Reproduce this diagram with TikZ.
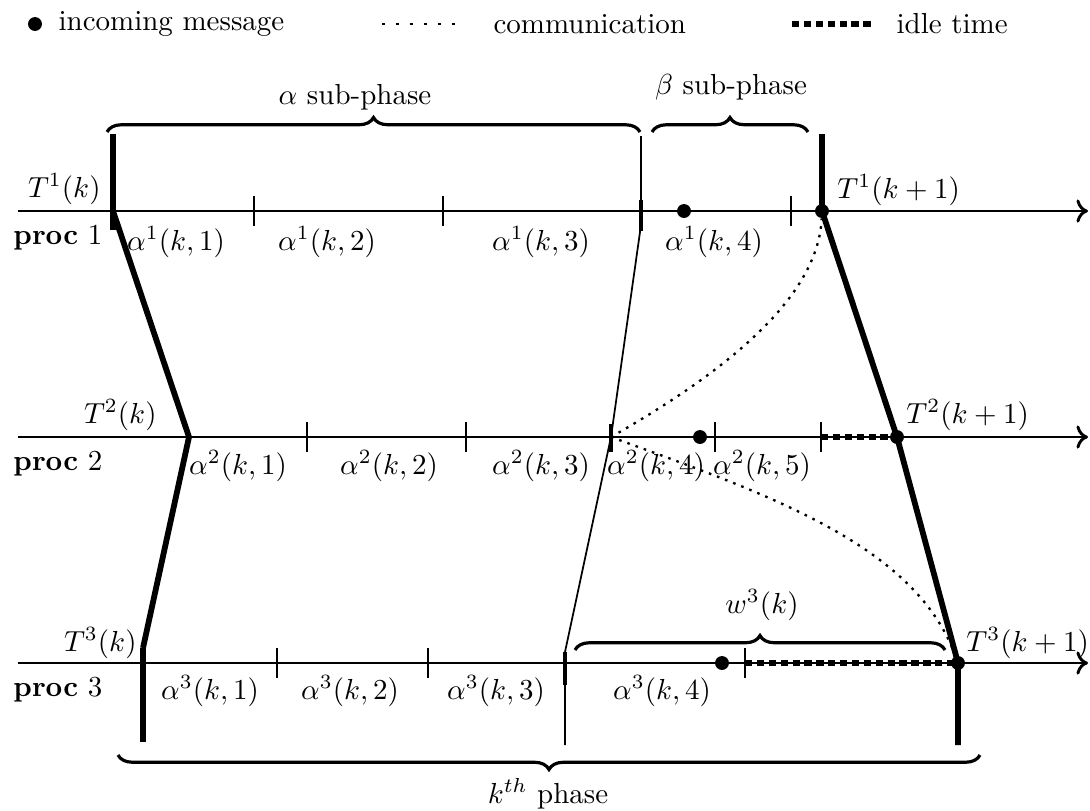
\documentclass[tikz,border=0pt]{standalone}
\usepackage{amsmath}
\usetikzlibrary{arrows.meta,decorations.pathreplacing}

\begin{document}
\begin{tikzpicture}[
  x=0.345pt, y=-0.345pt,
  axis/.style={line width=1pt, -{To[length=4pt,width=8pt]}},
  tick/.style={line width=0.6pt},
  sync/.style={line width=2pt},
  thinsync/.style={line width=0.6pt},
  idle/.style={line width=2pt, dash pattern=on 2.5pt off 1.6pt},
  comm/.style={line width=0.8pt, dash pattern=on 0.9pt off 2.1pt},
  msg/.style={circle, fill, inner sep=0pt, minimum size=4.8pt},
  brc/.style={decorate, decoration={brace, amplitude=5pt}, line width=1.1pt},
  lab/.style={inner sep=1pt},
  proclab/.style={anchor=west, inner sep=1pt}
]
\useasboundingbox (0,0) rectangle (1090,810);

% legend
\node[msg] (legmsg) at (35,24) {};
\node[anchor=west, inner sep=0pt] (legmsgtxt) at (58,24) {incoming message};
\coordinate (legcommA) at (382,24);
\coordinate (legcommB) at (462,24);
\draw[comm, line width=1pt, dash pattern=on 1.2pt off 3.6pt] (legcommA) -- (legcommB);
\node[anchor=west, inner sep=0pt] (legcommtxt) at (493,24) {communication};
\coordinate (legidleA) at (792,24);
\coordinate (legidleB) at (872,24);
\draw[idle] (legidleA) -- (legidleB);
\node[anchor=west, inner sep=0pt] (legidletxt) at (896,24) {idle time};

% time axes
\foreach \y/\n in {211/1,437/2,663/3} {
  \coordinate (ax\n s) at (18,\y);
  \coordinate (ax\n e) at (1088,\y);
  \draw[axis] (ax\n s) -- (ax\n e);
  \node[proclab] (proc\n) at (10,\y+27) {\textbf{proc} \n};
}

% phase boundaries
\coordinate (t1k) at (113,211);
\coordinate (t2k) at (189,437);
\coordinate (t3k) at (143,663);
\coordinate (a1e) at (641,225);
\coordinate (a2e) at (611,437);
\coordinate (a3e) at (565,652);
\coordinate (t1n) at (822,211);
\coordinate (t2n) at (897,437);
\coordinate (t3n) at (958,663);

\coordinate (t1top) at (113,134);
\coordinate (t1bot) at (113,230);
\coordinate (a1top) at (641,136);
\coordinate (t1ntop) at (822,134);
\coordinate (t3kbot) at (143,742);
\coordinate (t3ktop) at (143,648);
\coordinate (a3bot) at (565,745);
\coordinate (t3nbot) at (958,745);

\draw[sync] (t1top) -- (t1bot);
\draw[sync] (t1k) -- (t2k) -- (t3ktop);
\draw[sync] (t3ktop) -- (t3kbot);
\draw[thinsync] (a1top) -- (a1e) -- (a2e) -- (a3e) -- (a3bot);
\draw[line width=1.2pt] (641,200) -- (641,231);
\draw[line width=1.2pt] (611,424) -- (611,452);
\draw[line width=1.2pt] (565,652) -- (565,685);
\draw[sync] (t1ntop) -- (t1n) -- (t2n) -- (t3n) -- (t3nbot);

% ticks
\foreach \x in {254,443,791} \draw[tick] (\x,196) -- (\x,226);
\foreach \x in {307,466,715,821} \draw[tick] (\x,422) -- (\x,452);
\foreach \x in {277,428,745} \draw[tick] (\x,648) -- (\x,678);

% idle time
\coordinate (i2a) at (821,437);
\coordinate (i3a) at (745,663);
\draw[idle] (i2a) -- (t2n);
\draw[idle] (i3a) -- (t3n);

% incoming messages
\node[msg] (m1) at (684,211) {};
\node[msg] (m2) at (700,437) {};
\node[msg] (m3) at (722,663) {};
\node[msg] (m1n) at (t1n) {};
\node[msg] (m2n) at (t2n) {};
\node[msg] (m3n) at (t3n) {};

% communication
\draw[comm] (a2e) .. controls (720,375) and (818,300) .. (m1n);
\draw[comm] (a2e) .. controls (770,495) and (915,545) .. (m3n);

% interval labels
\foreach \x/\j in {176/1,327/2,541/3,714/4} \node[lab] (l1\j) at (\x,242) {$\alpha^1(k,\j)$};
\foreach \x/\j in {238/1,389/2,541/3,656/4,762/5} \node[lab] (l2\j) at (\x,466) {$\alpha^2(k,\j)$};
\foreach \x/\j in {210/1,350/2,496/3,662/4} \node[lab] (l3\j) at (\x,691) {$\alpha^3(k,\j)$};

% event labels
\node[lab, anchor=east] (T1k) at (104,189) {$T^1(k)$};
\node[lab, anchor=east] (T2k) at (160,415) {$T^2(k)$};
\node[lab, anchor=east] (T3k) at (140,643) {$T^3(k)$};
\node[lab, anchor=west] (T1n) at (834,190) {$T^1(k+1)$};
\node[lab, anchor=west] (T2n) at (903,415) {$T^2(k+1)$};
\node[lab, anchor=west] (T3n) at (963,643) {$T^3(k+1)$};

% braces
\coordinate (ba1) at (107,132);
\coordinate (ba2) at (640,132);
\draw[brc] (ba1) -- (ba2);
\node[lab] (asub) at (355,97) {$\alpha$ sub-phase};
\coordinate (bb1) at (652,132);
\coordinate (bb2) at (808,132);
\draw[brc] (bb1) -- (bb2);
\node[lab] (bsub) at (731,87) {$\beta$ sub-phase};
\coordinate (bw1) at (575,650);
\coordinate (bw2) at (945,650);
\draw[brc] (bw1) -- (bw2);
\node[lab] (wlab) at (762,605) {$w^3(k)$};
\coordinate (bk1) at (980,755);
\coordinate (bk2) at (118,755);
\draw[brc] (bk1) -- (bk2);
\node[lab] (klab) at (548,794) {$k^{th}$ phase};
\end{tikzpicture}
\end{document}
